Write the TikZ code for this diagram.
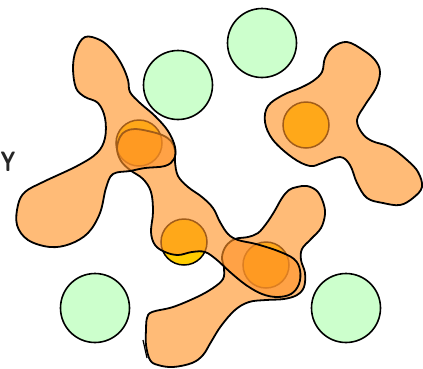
\documentclass[tikz,border=0pt]{standalone}
\definecolor{blobfill}{RGB}{255,147,40}
\definecolor{ballyellow}{RGB}{255,204,0}
\definecolor{mint}{RGB}{204,255,204}
\tikzset{
 blob/.style={draw=black, line width=1.8pt, fill=blobfill, fill opacity=0.63, line join=round},
 ball/.style={circle, draw=black, line width=1.5pt, fill=ballyellow, inner sep=0pt, minimum size=46pt},
 greenball/.style={circle, draw=black, line width=1.6pt, fill=mint, inner sep=0pt, minimum size=69pt},
}
\begin{document}
\begin{tikzpicture}[x=1pt,y=-1pt]
\useasboundingbox (0,0) rectangle (423,368);
% yellow balls
\node[ball] (y1) at (139,143) {};
\node[ball] (y2) at (306,125) {};
\node[ball] (y3) at (184,242) {};
\node[ball] (y4) at (266,265) {};
% blob C (bottom)
\path[blob] plot[smooth cycle, tension=0.6] coordinates {
 (297,187) (307,186) (317,191) (323,202) (325,214) (321,228) (311,239) (302,249)
 (301,260) (305,273) (304,287) (297,295) (284,299) (266,300) (249,302) (235,310)
 (221,326) (211,342) (203,355) (192,363) (173,367) (158,365) (150,360) (146,345)
 (146,330) (147,318) (152,312) (173,307) (197,297) (213,288) (223,279) (224,268)
 (222,257) (226,246) (235,239) (248,237) (258,233) (266,224) (274,212) (282,198) (289,190)};
\draw[line width=1.2pt] (143,340) -- (147,358);
% blob B (middle)
\path[blob] plot[smooth cycle, tension=0.6] coordinates {
 (120,137) (126,131) (135,129) (148,131) (162,135) (171,141) (175,150) (175,162)
 (178,176) (188,187) (202,197) (213,208) (220,222) (228,234) (238,240) (256,244)
 (278,251) (294,259) (300,270) (299,284) (291,294) (277,297) (262,294) (246,285)
 (230,272) (217,260) (205,252) (192,252) (178,255) (165,252) (155,245) (151,232)
 (153,212) (151,192) (143,179) (130,170) (121,161) (117,149)};
% blob A (top left)
\path[blob] plot[smooth cycle, tension=0.6] coordinates {
 (85,37) (100,40) (112,50) (122,65) (128,80) (130,92) (140,103) (155,116) (168,131)
 (175,147) (174,159) (165,166) (145,168) (130,171) (113,174) (106,188) (100,213)
 (88,233) (70,244) (50,247) (28,240) (17,225) (18,205) (25,192) (43,182) (77,166)
 (97,153) (105,138) (105,118) (98,103) (85,97) (76,88) (73,68) (76,50)};
% blob D (right)
\path[blob] plot[smooth cycle, tension=0.6] coordinates {
 (347,42) (363,50) (375,60) (380,72) (376,88) (365,105) (357,120) (362,133) (372,141)
 (390,147) (407,160) (418,172) (422,187) (413,198) (400,205) (383,203) (367,198)
 (357,183) (350,165) (340,157) (322,163) (310,166) (293,158) (273,140) (265,122)
 (268,106) (283,95) (300,88) (313,81) (322,72) (325,58) (333,47)};
% green balls
\node[greenball] (g1) at (178,85) {};
\node[greenball] (g2) at (262,43) {};
\node[greenball] (g3) at (95,308) {};
\node[greenball] (g4) at (346,308) {};
% label
\node[text=black!85, font=\sffamily\bfseries\fontsize{28}{28}\selectfont, inner sep=0pt, xscale=0.72] (lab) at (8,162) {Y};
\end{tikzpicture}
\end{document}
